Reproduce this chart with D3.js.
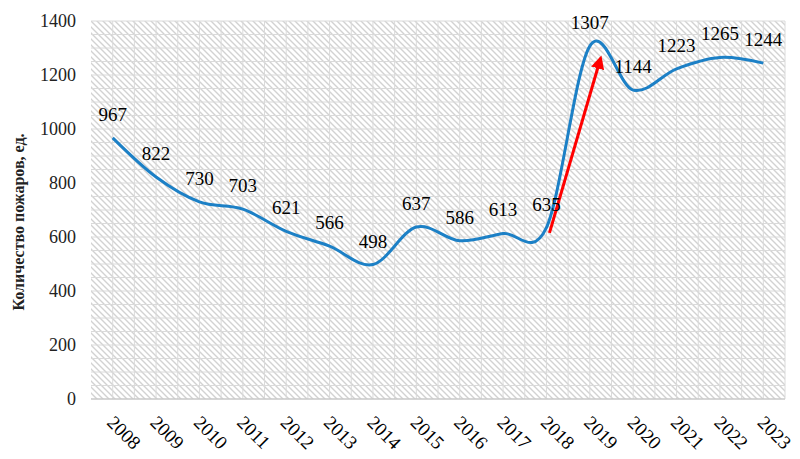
<!DOCTYPE html>
<html>
<head>
<meta charset="utf-8">
<script src="https://cdn.jsdelivr.net/npm/d3@7"></script>
<style>
  body { margin: 0; background: #fff; }
  text { font-family: "Liberation Serif", "Times New Roman", serif; }
</style>
</head>
<body>
<div id="chart"></div>
<script>
const years = ["2008","2009","2010","2011","2012","2013","2014","2015","2016","2017","2018","2019","2020","2021","2022","2023"]
const fires = [967, 822, 730, 703, 621, 566, 498, 637, 586, 613, 635, 1307, 1144, 1223, 1265, 1244]
const yTicks = [0, 200, 400, 600, 800, 1000, 1200, 1400]
const arrowFrom = [2018.07, 615]
const arrowTo = [2019.25, 1263]
const yTitle = "Количество пожаров, ед."

const W = 800, H = 459
const margin = { top: 21, right: 15, bottom: 60, left: 91 },
  width = W - margin.left - margin.right,
  height = H - margin.top - margin.bottom

const svg = d3.select("#chart")
  .append("svg")
    .attr("width", W)
    .attr("height", H)

const defs = svg.append("defs")
const pat = defs.append("pattern")
  .attr("id", "hatch")
  .attr("patternUnits", "userSpaceOnUse")
  .attr("width", 6)
  .attr("height", 6)
pat.append("path")
  .attr("d", "M0,0 L6,6 M-1,5 L1,7 M5,-1 L7,1")
  .attr("stroke", "#d2d2d2")
  .attr("stroke-width", 1.4)

defs.append("marker")
  .attr("id", "arrowhead")
  .attr("viewBox", "0 0 10 10")
  .attr("refX", 8)
  .attr("refY", 5)
  .attr("markerWidth", 4.5)
  .attr("markerHeight", 4.5)
  .attr("orient", "auto")
  .append("path")
    .attr("d", "M0,0 L10,5 L0,10 Z")
    .attr("fill", "#ff0000")

const g = svg.append("g")
  .attr("transform", `translate(${margin.left},${margin.top})`)

const x = d3.scaleBand()
  .domain(years)
  .range([0, width])

const y = d3.scaleLinear()
  .domain([0, 1400])
  .range([height, 0])

const xLin = d3.scaleLinear()
  .domain([+years[0], +years[years.length - 1]])
  .range([x(years[0]) + x.bandwidth() / 2, x(years[years.length - 1]) + x.bandwidth() / 2])

// plot area hatch
g.append("rect")
  .attr("width", width)
  .attr("height", height)
  .attr("fill", "url(#hatch)")

// grid: every 50 units horizontally, every half category vertically
g.append("g")
  .selectAll("line")
  .data(d3.range(50, 1401, 50))
  .join("line")
    .attr("x1", 0)
    .attr("x2", width)
    .attr("y1", d => y(d))
    .attr("y2", d => y(d))
    .attr("stroke", "#dadada")
    .attr("stroke-width", 1)

g.append("g")
  .selectAll("line")
  .data(d3.range(1, years.length * 2 + 1))
  .join("line")
    .attr("x1", d => d * x.bandwidth() / 2)
    .attr("x2", d => d * x.bandwidth() / 2)
    .attr("y1", 0)
    .attr("y2", height)
    .attr("stroke", "#dadada")
    .attr("stroke-width", 1)

// x axis line
g.append("line")
  .attr("x1", 0)
  .attr("x2", width)
  .attr("y1", height)
  .attr("y2", height)
  .attr("stroke", "#c8c8c8")
  .attr("stroke-width", 1.3)

// y tick labels
g.append("g")
  .selectAll("text")
  .data(yTicks)
  .join("text")
    .attr("x", -15)
    .attr("y", d => y(d))
    .attr("dy", "0.35em")
    .attr("text-anchor", "end")
    .attr("font-size", 18)
    .attr("fill", "#222")
    .text(d => d)

// x tick labels
g.append("g")
  .selectAll("text")
  .data(years)
  .join("text")
    .attr("transform", d => `translate(${x(d) + x.bandwidth() / 2 - 2},${height + 20}) rotate(45)`)
    .attr("dy", "0.35em")
    .attr("text-anchor", "start")
    .attr("font-size", 19)
    .attr("fill", "#000")
    .text(d => d)

// y title
svg.append("text")
  .attr("transform", `translate(24,${margin.top + height / 2 + 12}) rotate(-90)`)
  .attr("text-anchor", "middle")
  .attr("font-size", 16)
  .attr("font-weight", "bold")
  .attr("fill", "#222")
  .text(yTitle)

const data = years.map((yr, i) => ({ year: yr, value: fires[i] }))

const line = d3.line()
  .x(d => x(d.year) + x.bandwidth() / 2)
  .y(d => y(d.value))
  .curve(d3.curveCardinal.tension(0))

g.append("path")
  .datum(data)
  .attr("d", line)
  .attr("fill", "none")
  .attr("stroke", "#1c80c6")
  .attr("stroke-width", 3)

// red arrow
g.append("line")
  .attr("x1", xLin(arrowFrom[0]))
  .attr("y1", y(arrowFrom[1]))
  .attr("x2", xLin(arrowTo[0]))
  .attr("y2", y(arrowTo[1]))
  .attr("stroke", "#ff0000")
  .attr("stroke-width", 3)
  .attr("marker-end", "url(#arrowhead)")

// value labels
g.append("g")
  .selectAll("text")
  .data(data)
  .join("text")
    .attr("x", d => x(d.year) + x.bandwidth() / 2)
    .attr("y", d => y(d.value) - 17)
    .attr("text-anchor", "middle")
    .attr("font-size", 19)
    .attr("fill", "#000")
    .text(d => d.value)
</script>
</body>
</html>
